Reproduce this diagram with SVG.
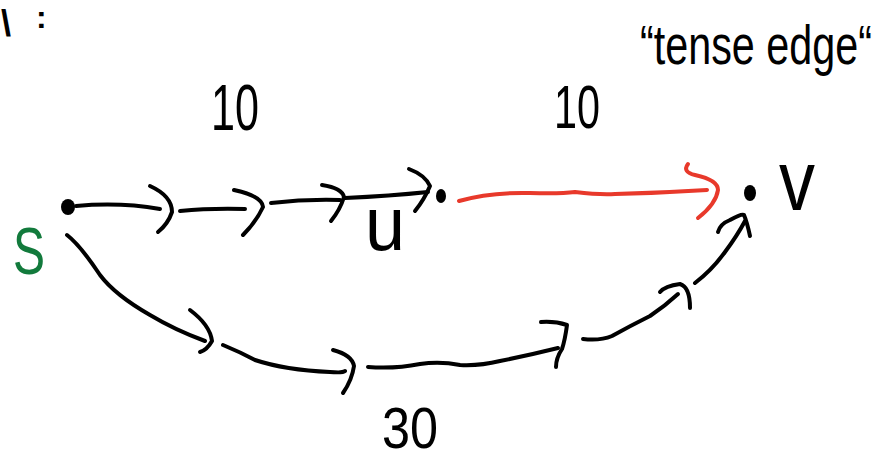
<svg xmlns="http://www.w3.org/2000/svg" width="889" height="463" viewBox="0 0 889 463">
  <style>
    .ink { fill: none; stroke: #000; stroke-width: 4; stroke-linecap: round; stroke-linejoin: round; }
    .red { fill: none; stroke: #e8392b; stroke-width: 4; stroke-linecap: round; stroke-linejoin: round; }
    .dot { fill: #000; }
    .hand { font-family: "Liberation Sans", "DejaVu Sans", sans-serif; fill: #000; }
    .green { fill: #127a3c; }
  </style>
  <rect width="889" height="463" fill="#fff"/>

  <!-- note fragment at the top-left edge -->
  <g id="note-fragment">
    <text class="hand" x="1" y="36" font-size="36" font-weight="bold">\</text>
    <text class="hand" x="36" y="28" font-size="32" font-weight="bold">:</text>
  </g>

  <!-- edge weights -->
  <g id="weights">
    <text class="hand" x="235" y="130" font-size="64" text-anchor="middle" textLength="48" lengthAdjust="spacingAndGlyphs">10</text>
    <text class="hand" x="577" y="128" font-size="62" text-anchor="middle" textLength="46" lengthAdjust="spacingAndGlyphs">10</text>
    <text class="hand" x="410" y="448" font-size="58" text-anchor="middle" textLength="56" lengthAdjust="spacingAndGlyphs">30</text>
  </g>

  <g id="caption">
    <text class="hand" transform="translate(756 64) scale(1 1.25)" x="0" y="0" font-size="44" text-anchor="middle" textLength="232" lengthAdjust="spacingAndGlyphs">“tense edge“</text>
  </g>

  <!-- nodes -->
  <g id="node-s">
    <ellipse class="dot" cx="68" cy="207" rx="7" ry="8"/>
    <text class="hand green" x="29" y="274" font-size="66" text-anchor="middle" textLength="32" lengthAdjust="spacingAndGlyphs">S</text>
  </g>
  <g id="node-u">
    <ellipse class="dot" cx="441" cy="196" rx="5" ry="7"/>
    <text class="hand" x="385" y="250" font-size="76" text-anchor="middle" textLength="40" lengthAdjust="spacingAndGlyphs">u</text>
  </g>
  <g id="node-v">
    <ellipse class="dot" cx="750" cy="193" rx="6" ry="8"/>
    <text class="hand" x="797" y="210" font-size="86" text-anchor="middle" textLength="36" lengthAdjust="spacingAndGlyphs">v</text>
  </g>

  <!-- connectors -->
  <g id="connectors">
    <!-- s to u, weight 10 -->
    <path class="ink" d="M76 206 Q120 202 160 209"/>
    <path class="ink" d="M150 186 Q172 196 172 212 Q168 224 158 232"/>
    <path class="ink" d="M180 211 Q210 208 245 209"/>
    <path class="ink" d="M234 190 Q262 196 263 207 Q256 222 243 235"/>
    <path class="ink" d="M271 203 Q305 199 340 200"/>
    <path class="ink" d="M322 185 Q342 188 344 197 Q340 210 331 221"/>
    <path class="ink" d="M345 198 Q390 196 428 192"/>
    <path class="ink" d="M409 169 Q425 175 430 186 Q424 200 415 211"/>

    <!-- u to v, tense edge -->
    <path class="red" d="M459 201 Q490 192 530 193 Q560 194 575 192 Q600 195 615 194 Q660 193 707 190"/>
    <path class="red" d="M688 164 Q682 172 695 175 Q718 180 718 190 Q716 204 698 218"/>

    <!-- s to v, weight 30 -->
    <path class="ink" d="M67 235 Q80 245 100 275 Q115 295 150 315 Q175 330 205 341"/>
    <path class="ink" d="M190 310 Q210 325 212 341 Q207 350 200 352"/>
    <path class="ink" d="M223 345 Q240 352 255 360 Q285 370 330 372 Q343 373 345 371"/>
    <path class="ink" d="M333 350 Q352 355 354 366 Q352 380 343 393"/>
    <path class="ink" d="M368 367 Q395 369 420 364 Q440 361 460 365 Q480 366 500 361 Q530 355 558 348"/>
    <path class="ink" d="M541 322 Q555 321 567 325 Q565 340 562 349 Q556 358 556 367"/>
    <path class="ink" d="M583 339 Q600 341 612 336 Q630 326 650 316 Q665 306 678 294"/>
    <path class="ink" d="M660 292 Q665 286 680 284 Q690 287 690 308"/>
    <path class="ink" d="M695 283 Q712 270 725 252 Q737 236 745 221"/>
    <path class="ink" d="M718 232 Q720 224 730 220 Q742 213 744 215 Q747 222 750 236"/>
  </g>
</svg>
